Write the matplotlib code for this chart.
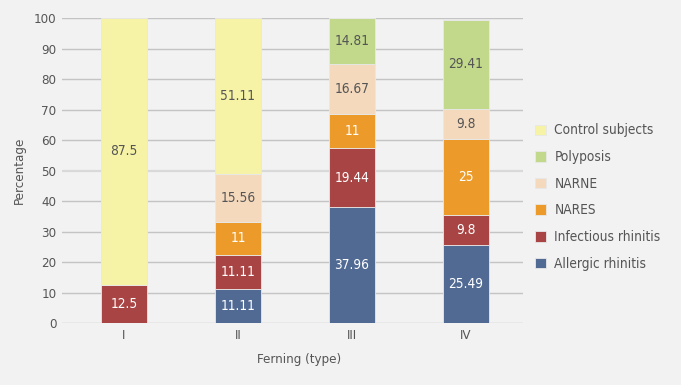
import matplotlib
matplotlib.use('Agg')
import matplotlib.pyplot as plt
import matplotlib.font_manager as fm
import numpy as np

# pick a narrow font if there is one
names = set(f.name for f in fm.fontManager.ttflist)
if 'Liberation Sans Narrow' in names:
    plt.rcParams['font.family'] = ['Liberation Sans Narrow', 'DejaVu Sans']
    fs_big, fs_small = 11.5, 10.5
else:
    plt.rcParams['font.family'] = ['DejaVu Sans']
    plt.rcParams['font.stretch'] = 'condensed'
    fs_big, fs_small = 9.8, 9.5

categories = ['I', 'II', 'III', 'IV']
series_names = ['Allergic rhinitis', 'Infectious rhinitis', 'NARES', 'NARNE', 'Polyposis', 'Control subjects']
allergic = [0, 11.11, 37.96, 25.49]
infectious = [12.5, 11.11, 19.44, 9.8]
nares = [0, 11, 11, 25]
narne = [0, 15.56, 16.67, 9.8]
polyposis = [0, 0, 14.81, 29.41]
control = [87.5, 51.11, 0, 0]
series = [allergic, infectious, nares, narne, polyposis, control]

colors = ['#506a94', '#a94444', '#ec9a2a', '#f5d9bd', '#c2d98c', '#f6f3a6']
label_colors = ['white', 'white', 'white', '#555555', '#555555', '#555555']
bg = '#f1f2f1'
txt = '#555555'

fig = plt.figure(figsize=(6.81, 3.85), dpi=100, facecolor=bg)
ax = fig.add_axes([0.091, 0.161, 0.677, 0.792])
ax.set_facecolor(bg)

x = np.arange(len(categories))
bottom = np.zeros(len(categories))
handles = []
for vals, col, lc, name in zip(series, colors, label_colors, series_names):
    vals = np.array(vals, dtype=float)
    b = ax.bar(x, vals, 0.404, bottom=bottom, color=col, edgecolor='#e8e8e8', linewidth=0.6, label=name, zorder=3)
    handles.append(b)
    for xi, v, bt in zip(x, vals, bottom):
        if v > 0:
            ax.text(xi, bt + v / 2, ('%g' % v), ha='center', va='center', color=lc, fontsize=fs_big, zorder=4)
    bottom += vals

ax.set_xlim(-0.544, 3.5)
ax.set_ylim(0, 100)
ax.set_yticks(range(0, 101, 10))
ax.set_xticks(x)
ax.set_xticklabels(categories)
for yv in range(0, 101, 10):
    ax.axhline(yv, color='#d9d9d9' if yv == 50 else '#c4c4c4', linewidth=1.6 if yv == 50 else 1.0, zorder=1)
for s in ax.spines.values():
    s.set_visible(False)
ax.tick_params(length=0, colors=txt, labelsize=fs_small, pad=4)
ax.set_xlabel('Ferning (type)', color=txt, fontsize=fs_small, labelpad=8, x=0.514)
ax.set_ylabel('Percentage', color=txt, fontsize=fs_small, labelpad=6)

leg = ax.legend(handles[::-1], series_names[::-1], loc='center left', bbox_to_anchor=(1.0, 0.413),
                frameon=False, fontsize=fs_big, labelcolor=txt, handlelength=0.8, handleheight=0.8,
                handletextpad=0.6, labelspacing=0.93)

fig.savefig('out.png', dpi=100, facecolor=bg)
